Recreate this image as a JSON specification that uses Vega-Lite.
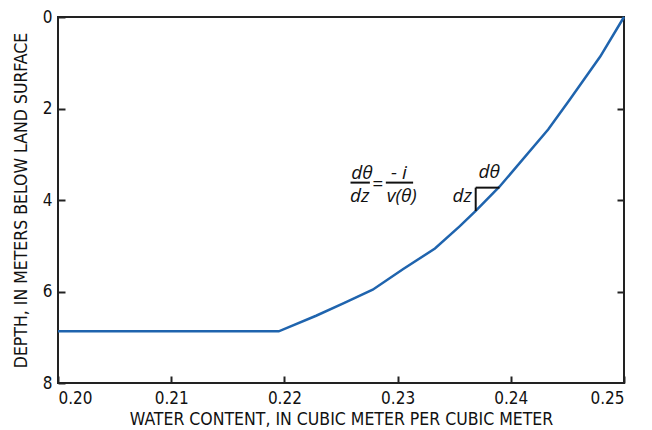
{
  "$schema": "https://vega.github.io/schema/vega-lite/v6.json",
  "width": 566,
  "height": 366,
  "autosize": "none",
  "padding": {"left": 58, "top": 17, "right": 28, "bottom": 47},
  "config": {
    "view": {"stroke": "#222222", "strokeWidth": 2},
    "font": "Liberation Sans Narrow, DejaVu Sans Condensed, sans-serif",
    "axis": {
      "grid": false,
      "domain": false,
      "ticks": true,
      "tickColor": "#222222",
      "tickWidth": 2,
      "tickSize": -7,
      "labelFont": "Liberation Sans Narrow, DejaVu Sans Condensed, sans-serif",
      "titleFont": "Liberation Sans Narrow, DejaVu Sans Condensed, sans-serif",
      "labelFontSize": 17,
      "titleFontSize": 17.5,
      "titleFontWeight": "normal",
      "labelColor": "#111111",
      "titleColor": "#111111"
    }
  },
  "datasets": {
    "curve": [
      {"theta": 0.200, "depth": 6.87},
      {"theta": 0.2195, "depth": 6.87},
      {"theta": 0.2228, "depth": 6.53},
      {"theta": 0.2253, "depth": 6.25},
      {"theta": 0.2278, "depth": 5.96},
      {"theta": 0.2305, "depth": 5.51},
      {"theta": 0.2333, "depth": 5.06},
      {"theta": 0.2355, "depth": 4.57},
      {"theta": 0.2369, "depth": 4.24},
      {"theta": 0.2390, "depth": 3.71},
      {"theta": 0.2433, "depth": 2.46},
      {"theta": 0.2452, "depth": 1.81},
      {"theta": 0.2479, "depth": 0.865},
      {"theta": 0.2500, "depth": 0.0}
    ],
    "bars": [
      {"x1": 0.22584, "x2": 0.22755, "y1": 3.62, "y2": 3.62},
      {"x1": 0.22896, "x2": 0.23137, "y1": 3.62, "y2": 3.62},
      {"x1": 0.2369, "x2": 0.2369, "y1": 4.24, "y2": 3.73},
      {"x1": 0.2369, "x2": 0.2390, "y1": 3.73, "y2": 3.73}
    ],
    "labels": [
      {"x": 0.22685, "y": 3.40, "t": "dθ"},
      {"x": 0.22666, "y": 3.92, "t": "dz"},
      {"x": 0.22822, "y": 3.66, "t": "="},
      {"x": 0.23011, "y": 3.40, "t": "- i"},
      {"x": 0.23037, "y": 3.92, "t": "v(θ)"},
      {"x": 0.2381, "y": 3.38, "t": "dθ"},
      {"x": 0.2357, "y": 3.92, "t": "dz"}
    ]
  },
  "layer": [
    {
      "data": {"name": "curve"},
      "mark": {"type": "line", "color": "#1f64ae", "strokeWidth": 2.5},
      "encoding": {
        "x": {
          "field": "theta", "type": "quantitative",
          "scale": {"domain": [0.2, 0.25], "nice": false, "zero": false},
          "axis": {
            "title": "WATER CONTENT, IN CUBIC METER PER CUBIC METER",
            "values": [0.2, 0.21, 0.22, 0.23, 0.24, 0.25],
            "format": ".2f",
            "ticks": true,
            "tickSize": -7,
            "labelPadding": 14,
            "titlePadding": 4
          }
        },
        "y": {
          "field": "depth", "type": "quantitative",
          "scale": {"domain": [0, 8], "nice": false, "zero": false, "reverse": true},
          "axis": {
            "title": "DEPTH, IN METERS BELOW LAND SURFACE",
            "values": [0, 2, 4, 6, 8],
            "format": "d",
            "labelPadding": 13,
            "titlePadding": 12
          }
        }
      }
    },
    {
      "data": {"name": "bars"},
      "mark": {"type": "rule", "color": "#111111", "strokeWidth": 2},
      "encoding": {
        "x": {
          "field": "x1", "type": "quantitative",
          "axis": {
            "title": "WATER CONTENT, IN CUBIC METER PER CUBIC METER",
            "values": [0.2, 0.21, 0.22, 0.23, 0.24, 0.25],
            "format": ".2f",
            "ticks": true,
            "tickSize": -7,
            "labelPadding": 14,
            "titlePadding": 4
          }
        },
        "x2": {"field": "x2"},
        "y": {
          "field": "y1", "type": "quantitative",
          "axis": {"orient": "right", "labels": false, "title": null, "values": [2, 4, 6]}
        },
        "y2": {"field": "y2"}
      }
    },
    {
      "data": {"name": "labels"},
      "mark": {"type": "text", "fontSize": 19, "fontStyle": "italic", "font": "Open Sans", "color": "#111111", "baseline": "middle", "align": "center"},
      "encoding": {
        "x": {
          "field": "x", "type": "quantitative",
          "axis": {
            "title": "WATER CONTENT, IN CUBIC METER PER CUBIC METER",
            "values": [0.2, 0.21, 0.22, 0.23, 0.24, 0.25],
            "format": ".2f",
            "ticks": true,
            "tickSize": -7,
            "labelPadding": 14,
            "titlePadding": 4
          }
        },
        "y": {"field": "y", "type": "quantitative", "axis": null},
        "text": {"field": "t"}
      }
    }
  ],
  "resolve": {"axis": {"y": "independent"}}
}
